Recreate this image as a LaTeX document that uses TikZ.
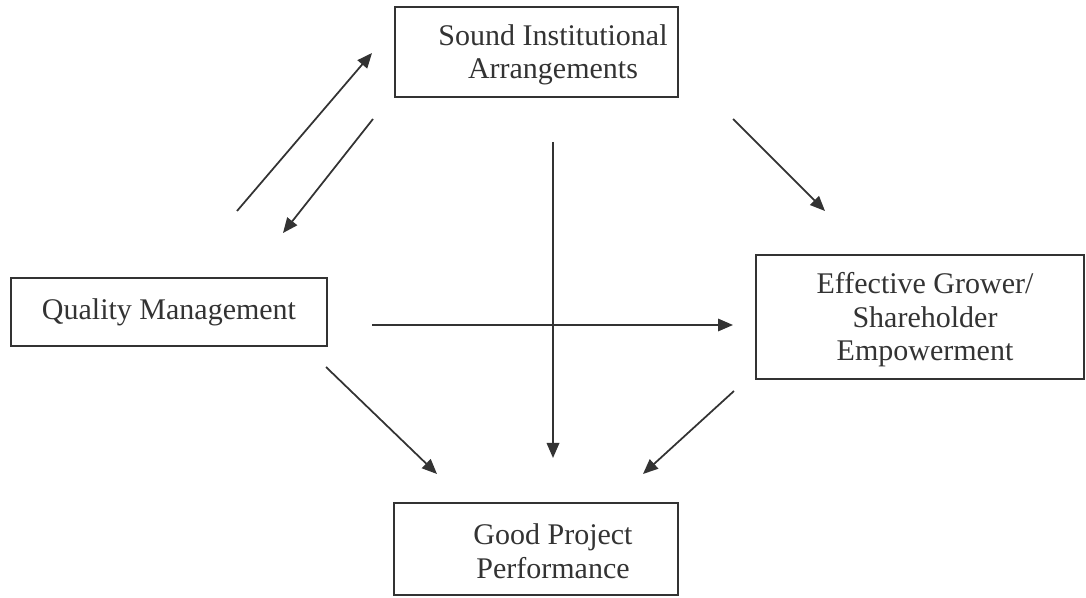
\documentclass[tikz,border=0pt]{standalone}
\usepackage{fontspec}
\setmainfont{Liberation Serif}
\usetikzlibrary{arrows.meta}
\definecolor{ink}{HTML}{333333}
\begin{document}
\begin{tikzpicture}[x=0.4pt,y=-0.4pt,
  box/.style={draw=ink,line width=0.75pt,rectangle,inner sep=0pt},
  txt/.style={inner sep=0pt,align=center,text=ink,font=\fontsize{12pt}{13.4pt}\selectfont},
  conn/.style={draw=ink,line width=0.7pt,-{Triangle[length=6pt,width=5pt]}}]
\useasboundingbox (0,0) rectangle (1086,598);
\node[box,minimum width=283*0.4pt,minimum height=90*0.4pt] (sia) at (536.5,52) {};
\node[txt] (siat) at (553,55) {Sound Institutional\\Arrangements};
\node[box,minimum width=316*0.4pt,minimum height=68*0.4pt] (qm) at (169,312) {};
\node[txt] (qmt) at (169,312) {Quality Management};
\node[box,minimum width=328*0.4pt,minimum height=124*0.4pt] (egse) at (920,317) {};
\node[txt] (egset) at (925,320) {Effective Grower/\\Shareholder\\Empowerment};
\node[box,minimum width=284*0.4pt,minimum height=92*0.4pt] (gpp) at (536,549) {};
\node[txt] (gppt) at (553,551) {Good Project\\Performance};
% connector end points
\coordinate (a1) at (237,211); \coordinate (a2) at (372,53);
\coordinate (b1) at (373,119); \coordinate (b2) at (283,233);
\coordinate (c1) at (553,142); \coordinate (c2) at (553,458);
\coordinate (d1) at (372,325); \coordinate (d2) at (733,325);
\coordinate (e1) at (733,119); \coordinate (e2) at (825,211);
\coordinate (f1) at (326,367); \coordinate (f2) at (437,474);
\coordinate (g1) at (734,391); \coordinate (g2) at (643,474);
\draw[conn] (a1) -- (a2);
\draw[conn] (b1) -- (b2);
\draw[conn] (c1) -- (c2);
\draw[conn] (d1) -- (d2);
\draw[conn] (e1) -- (e2);
\draw[conn] (f1) -- (f2);
\draw[conn] (g1) -- (g2);
\end{tikzpicture}
\end{document}
